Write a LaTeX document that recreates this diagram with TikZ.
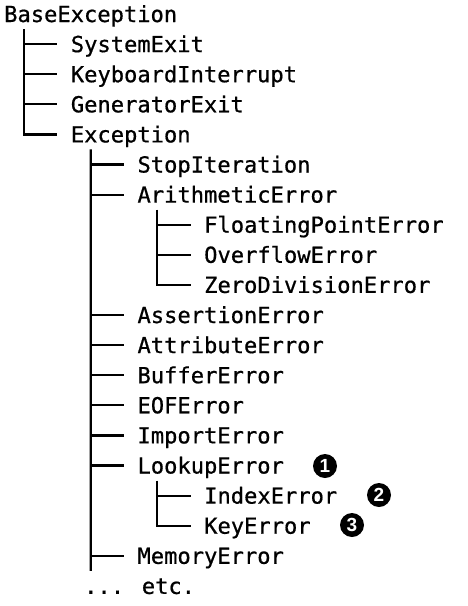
\documentclass[tikz,border=0pt]{standalone}
\usepackage{fontspec}
\newfontfamily\treemono[FakeBold=0.7]{DejaVu Sans Mono}
\newfontfamily\calloutfont{Liberation Sans}
\usetikzlibrary{calc}
\begin{document}
\begin{tikzpicture}[x=1pt,y=-1pt,
  item/.style={anchor=base west,inner sep=0pt,text height=20pt,text depth=4pt,
    font=\treemono\fontsize{22.1pt}{30pt}\selectfont},
  tree/.style={line width=2.2pt,line cap=butt},
  callout/.style={circle,fill=black,text=white,minimum size=24pt,inner sep=0pt,
    font=\calloutfont\bfseries\fontsize{19pt}{19pt}\selectfont}]
\useasboundingbox (0,0) rectangle (468,606);
\def\cw{13.333}
\def\rowy#1{22+30.1*#1}
\node[item] (base)  at ({4+0*\cw},{\rowy{0}}) {BaseException};
\node[item] (sysx)  at ({4+5*\cw},{\rowy{1}}) {SystemExit};
\node[item] (kbd)   at ({4+5*\cw},{\rowy{2}}) {KeyboardInterrupt};
\node[item] (genx)  at ({4+5*\cw},{\rowy{3}}) {GeneratorExit};
\node[item] (exc)   at ({4+5*\cw},{\rowy{4}}) {Exception};
\node[item] (stop)  at ({4+10*\cw},{\rowy{5}}) {StopIteration};
\node[item] (arith) at ({4+10*\cw},{\rowy{6}}) {ArithmeticError};
\node[item] (flt)   at ({4+15*\cw},{\rowy{7}}) {FloatingPointError};
\node[item] (ovf)   at ({4+15*\cw},{\rowy{8}}) {OverflowError};
\node[item] (zero)  at ({4+15*\cw},{\rowy{9}}) {ZeroDivisionError};
\node[item] (asrt)  at ({4+10*\cw},{\rowy{10}}) {AssertionError};
\node[item] (attr)  at ({4+10*\cw},{\rowy{11}}) {AttributeError};
\node[item] (buf)   at ({4+10*\cw},{\rowy{12}}) {BufferError};
\node[item] (eof)   at ({4+10*\cw},{\rowy{13}}) {EOFError};
\node[item] (imp)   at ({4+10*\cw},{\rowy{14}}) {ImportError};
\node[item] (look)  at ({4+10*\cw},{\rowy{15}}) {LookupError};
\node[item] (idx)   at ({4+15*\cw},{\rowy{16}}) {IndexError};
\node[item] (key)   at ({4+15*\cw},{\rowy{17}}) {KeyError};
\node[item] (mem)   at ({4+10*\cw},{\rowy{18}}) {MemoryError};
\node[item] (etc)   at ({4+6*\cw},{\rowy{19}}) {... etc.};
% callouts
\node[callout] (c1) at (325,466) {1};
\node[callout] (c2) at (379,495) {2};
\node[callout] (c3) at (352,525) {3};
% trunks and branches
\draw[tree] ($(base.west)+(20,15)$) |- ($(exc.west)+(-\cw,0)$);
\foreach \n in {sysx,kbd,genx}
  \draw[tree] ($(\n.west)+(-3.5*\cw,0)$) -- ($(\n.west)+(-\cw,0)$);
\draw[tree] ($(exc.west)+(20,15)$) -- ($(mem.west)+(-3.5*\cw,15)$);
\foreach \n in {stop,arith,asrt,attr,buf,eof,imp,look,mem}
  \draw[tree] ($(\n.west)+(-3.5*\cw,0)$) -- ($(\n.west)+(-\cw,0)$);
\draw[tree] ($(arith.west)+(20,15)$) |- ($(zero.west)+(-\cw,0)$);
\foreach \n in {flt,ovf}
  \draw[tree] ($(\n.west)+(-3.5*\cw,0)$) -- ($(\n.west)+(-\cw,0)$);
\draw[tree] ($(look.west)+(20,15)$) |- ($(key.west)+(-\cw,0)$);
\draw[tree] ($(idx.west)+(-3.5*\cw,0)$) -- ($(idx.west)+(-\cw,0)$);
\end{tikzpicture}
\end{document}
